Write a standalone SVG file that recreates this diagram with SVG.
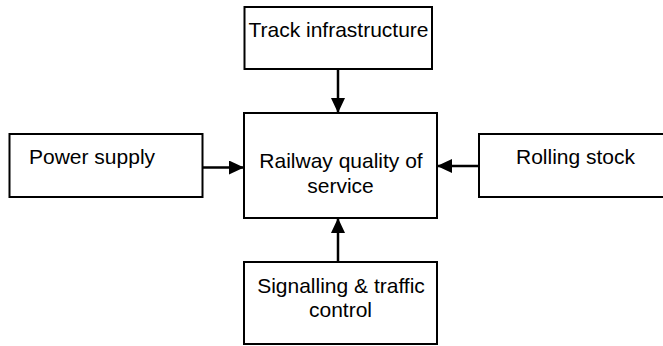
<svg xmlns="http://www.w3.org/2000/svg" width="663" height="346" viewBox="0 0 663 346">
<style>
.box{fill:#fff;stroke:#000;stroke-width:2}
.lbl{font-family:"Liberation Sans",Arial,sans-serif;font-size:21px;fill:#000}
.c{text-anchor:middle}
.conn{stroke:#000;stroke-width:2.5;fill:none}
</style>
<defs>
<marker id="ah" markerUnits="userSpaceOnUse" markerWidth="16" markerHeight="14" refX="15" refY="7" orient="auto">
<polygon points="0,0 15,7 0,14" fill="#000"/>
</marker>
</defs>
<rect width="663" height="346" fill="#fff"/>
<g id="track">
<rect class="box" x="244.5" y="7" width="187.5" height="62"/>
<text class="lbl c" x="338.5" y="37">Track infrastructure</text>
</g>
<g id="power">
<rect class="box" x="9.5" y="134" width="193" height="63"/>
<text class="lbl" x="29" y="164">Power supply</text>
</g>
<g id="quality">
<rect class="box" x="244" y="113" width="193" height="105"/>
<text class="lbl c" x="341" y="168">Railway quality of</text>
<text class="lbl c" x="340.5" y="193">service</text>
</g>
<g id="rolling">
<rect class="box" x="479" y="134" width="200" height="63"/>
<text class="lbl" x="516" y="164">Rolling stock</text>
</g>
<g id="signalling">
<rect class="box" x="244" y="262" width="193" height="82"/>
<text class="lbl c" x="341" y="293">Signalling &amp; traffic</text>
<text class="lbl c" x="340.5" y="317">control</text>
</g>
<g id="connectors">
<line class="conn" x1="338" y1="69" x2="338" y2="113" marker-end="url(#ah)"/>
<line class="conn" x1="202.5" y1="167.5" x2="244" y2="167.5" marker-end="url(#ah)"/>
<line class="conn" x1="479" y1="166" x2="437" y2="166" marker-end="url(#ah)"/>
<line class="conn" x1="338" y1="262" x2="338" y2="218" marker-end="url(#ah)"/>
</g>
</svg>
